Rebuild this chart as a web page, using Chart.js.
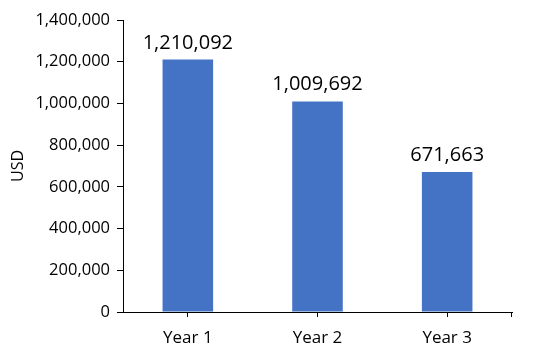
<!DOCTYPE html>
<html>
<head>
<meta charset="utf-8">
<script src="https://cdn.jsdelivr.net/npm/chart.js@4/dist/chart.umd.min.js"></script>
<style>
  html, body { margin: 0; padding: 0; background: #fff; }
  #wrap { width: 550px; height: 355px; }
</style>
</head>
<body>
<div id="wrap"><canvas id="usdChart"></canvas></div>
<script>
// values
const years = ['Year 1', 'Year 2', 'Year 3'];
const amounts = [1210092, 1009692, 671663];
const yMax = 1400000;
const yStep = 200000;

const fmt = v => v.toLocaleString('en-US');

// draw the value above each bar
const barLabels = {
    id: 'barLabels',
    afterDatasetsDraw(chart) {
        const ctx = chart.ctx;
        const meta = chart.getDatasetMeta(0);
        ctx.save();
        ctx.font = '20px "Open Sans"';
        ctx.fillStyle = '#000';
        ctx.textAlign = 'center';
        ctx.textBaseline = 'alphabetic';
        meta.data.forEach((bar, i) => {
            ctx.fillText(fmt(amounts[i]), bar.x, bar.y - 11);
        });
        ctx.restore();
    }
};

// small tick at the right end of the x axis
const endTick = {
    id: 'endTick',
    afterDraw(chart) {
        const ctx = chart.ctx;
        const a = chart.chartArea;
        ctx.save();
        ctx.strokeStyle = '#000';
        ctx.lineWidth = 1;
        ctx.beginPath();
        ctx.moveTo(Math.round(a.right) - 0.5, a.bottom);
        ctx.lineTo(Math.round(a.right) - 0.5, a.bottom + 5);
        ctx.stroke();
        ctx.restore();
    }
};

Chart.defaults.font.family = '"Open Sans", sans-serif';
Chart.defaults.color = '#000';

new Chart(document.getElementById('usdChart'), {
    type: 'bar',
    data: {
        labels: years,
        datasets: [{
            data: amounts,
            backgroundColor: '#4472C4',
            barPercentage: 0.39,
            categoryPercentage: 1
        }]
    },
    options: {
        responsive: true,
        maintainAspectRatio: false,
        animation: false,
        layout: { padding: { top: 20, right: 38, left: 0, bottom: 0 } },
        plugins: { legend: { display: false }, tooltip: { enabled: false } },
        scales: {
            x: {
                grid: { display: true, drawOnChartArea: false, offset: false, tickLength: 5, color: '#000' },
                border: { color: '#000' },
                ticks: { font: { size: 17 }, padding: 11 },
                afterFit: s => { s.height = 43; }
            },
            y: {
                min: 0,
                max: yMax,
                grid: { display: true, drawOnChartArea: false, tickLength: 6, color: '#000' },
                border: { color: '#000' },
                ticks: { stepSize: yStep, font: { size: 16.5 }, padding: 7, callback: v => fmt(v) },
                title: { display: true, text: 'USD', font: { size: 16 }, padding: { top: 9, bottom: 0 } },
                afterFit: s => { s.width = 123; }
            }
        }
    },
    plugins: [barLabels, endTick]
});
</script>
</body>
</html>
